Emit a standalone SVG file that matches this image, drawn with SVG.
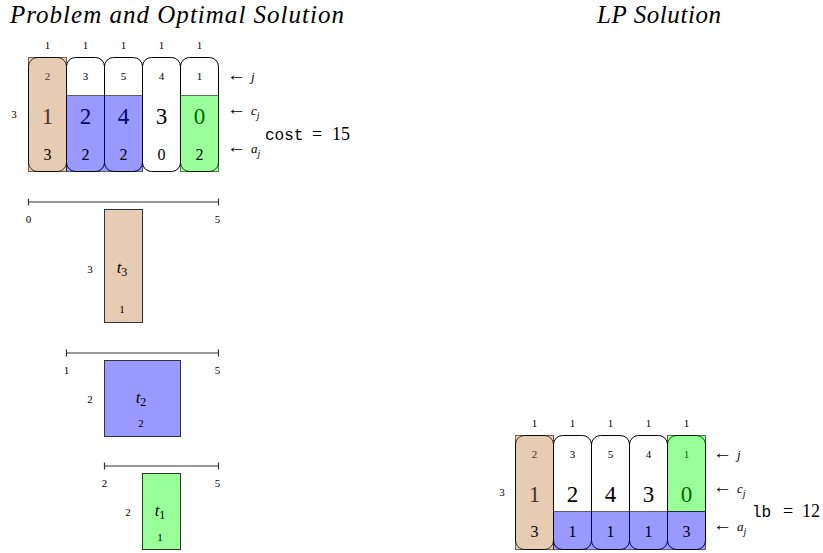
<svg xmlns="http://www.w3.org/2000/svg" width="823" height="553" viewBox="0 0 823 553" font-family="'Liberation Serif', 'Times New Roman', 'DejaVu Serif', serif">
<style>
text, tspan{font-family:'Liberation Serif', 'Times New Roman', 'DejaVu Serif', serif}
.c{text-anchor:middle}
.t{font-size:25px;font-style:italic;text-anchor:middle}
.s{font-size:11px}
.b{font-size:23px}
.m{font-size:16px}
.it{font-style:italic}
tspan.ar{font-size:19px}
tspan.mono{font-family:'Liberation Mono', 'DejaVu Sans Mono', monospace;font-size:16px}
.col{fill:none;stroke:#000;stroke-width:1}
.ov{stroke:#000;stroke-opacity:0.55;stroke-width:1}
.tan{fill:#bf8040;fill-opacity:0.4}
.blue{fill:#0000ff;fill-opacity:0.4}
.green{fill:#00ff00;fill-opacity:0.4}
.task{stroke:#333;stroke-width:1}
.axis{stroke:#333;stroke-width:1.2;fill:none}
</style>
<rect width="823" height="553" fill="#fff"/>
<g id="titles">
<text class="t" x="177" y="23" textLength="334">Problem and Optimal Solution</text>
<text class="t" x="659" y="23" textLength="124">LP Solution</text>
</g>
<g id="problem-grid">
<g id="pg-columns">
<rect class="col" x="28.5" y="57.5" width="38" height="114" rx="9"/>
<rect class="col" x="66.5" y="57.5" width="38" height="114" rx="9"/>
<rect class="col" x="104.5" y="57.5" width="38" height="114" rx="9"/>
<rect class="col" x="142.5" y="57.5" width="38" height="114" rx="9"/>
<rect class="col" x="180.5" y="57.5" width="38" height="114" rx="9"/>
</g>
<g id="pg-j" class="c s">
<text x="47.5" y="80">2</text><text x="85.5" y="80">3</text><text x="123.5" y="80">5</text><text x="161.5" y="80">4</text><text x="199.5" y="80">1</text>
</g>
<g id="pg-c" class="c b">
<text x="47.5" y="124">1</text><text x="85.5" y="124">2</text><text x="123.5" y="124">4</text><text x="161.5" y="124">3</text><text x="199.5" y="124">0</text>
</g>
<g id="pg-fills">
<rect class="ov tan" x="28.5" y="57.5" width="38" height="114"/>
<rect class="ov blue" x="66.5" y="95.5" width="76" height="76"/>
<rect class="ov green" x="180.5" y="95.5" width="38" height="76"/>
</g>
<g id="pg-a" class="c m">
<text x="47.5" y="160">3</text><text x="85.5" y="160">2</text><text x="123.5" y="160">2</text><text x="161.5" y="160">0</text><text x="199.5" y="160">2</text>
</g>
<g id="pg-widths" class="c s">
<text x="47.5" y="48.5">1</text><text x="85.5" y="48.5">1</text><text x="123.5" y="48.5">1</text><text x="161.5" y="48.5">1</text><text x="199.5" y="48.5">1</text>
</g>
<text class="c s" x="14" y="118">3</text>
<g id="pg-labels">
<text x="227" y="81"><tspan class="ar" font-size="19">←</tspan><tspan class="it" dx="5" font-size="13">j</tspan></text>
<text x="227" y="115"><tspan class="ar" font-size="19">←</tspan><tspan class="it" dx="5" font-size="13">c</tspan><tspan class="it" font-size="10" dy="4">j</tspan></text>
<text x="227" y="153"><tspan class="ar" font-size="19">←</tspan><tspan class="it" dx="5" font-size="13">a</tspan><tspan class="it" font-size="10" dy="4">j</tspan></text>
<text x="265" y="140"><tspan class="mono">cost</tspan><tspan x="312" font-size="18">=</tspan><tspan x="332" font-size="18">15</tspan></text>
</g>
</g>
<g id="schedule">
<g id="axis-t3">
<path class="axis" d="M28.5 202H218.5M28.5 198.5V205.5M218.5 198.5V205.5"/>
<text class="c s" x="28.5" y="223">0</text><text class="c s" x="217.5" y="223">5</text>
</g>
<g id="task-t3">
<rect class="task" x="104.5" y="209.5" width="38" height="113" fill="#e6ccb2"/>
<text class="c s" x="90" y="273">3</text>
<text class="c" x="122" y="273"><tspan class="it" font-size="17">t</tspan><tspan font-size="12" dy="3">3</tspan></text>
<text class="c s" x="122" y="313">1</text>
</g>
<g id="axis-t2">
<path class="axis" d="M66.5 353H218.5M66.5 349.5V356.5M218.5 349.5V356.5"/>
<text class="c s" x="66.5" y="374">1</text><text class="c s" x="217.5" y="374">5</text>
</g>
<g id="task-t2">
<rect class="task" x="104.5" y="360.5" width="76" height="76" fill="#9999ff"/>
<text class="c s" x="90" y="403">2</text>
<text class="c" x="141" y="403"><tspan class="it" font-size="17">t</tspan><tspan font-size="12" dy="3">2</tspan></text>
<text class="c s" x="141" y="427">2</text>
</g>
<g id="axis-t1">
<path class="axis" d="M104.5 466H218.5M104.5 462.5V469.5M218.5 462.5V469.5"/>
<text class="c s" x="104.5" y="487">2</text><text class="c s" x="217.5" y="487">5</text>
</g>
<g id="task-t1">
<rect class="task" x="142.5" y="473.5" width="38" height="76" fill="#99ff99"/>
<text class="c s" x="128" y="516">2</text>
<text class="c" x="160" y="516"><tspan class="it" font-size="17">t</tspan><tspan font-size="12" dy="3">1</tspan></text>
<text class="c s" x="160" y="541">1</text>
</g>
</g>
<g id="lp-grid">
<g id="lp-columns">
<rect class="col" x="515.5" y="435.5" width="38" height="114" rx="9"/>
<rect class="col" x="553.5" y="435.5" width="38" height="114" rx="9"/>
<rect class="col" x="591.5" y="435.5" width="38" height="114" rx="9"/>
<rect class="col" x="629.5" y="435.5" width="38" height="114" rx="9"/>
<rect class="col" x="667.5" y="435.5" width="38" height="114" rx="9"/>
</g>
<g id="lp-j" class="c s">
<text x="534.5" y="458">2</text><text x="572.5" y="458">3</text><text x="610.5" y="458">5</text><text x="648.5" y="458">4</text><text x="686.5" y="458">1</text>
</g>
<g id="lp-c" class="c b">
<text x="534.5" y="502">1</text><text x="572.5" y="502">2</text><text x="610.5" y="502">4</text><text x="648.5" y="502">3</text><text x="686.5" y="502">0</text>
</g>
<g id="lp-fills">
<rect class="ov tan" x="515.5" y="435.5" width="38" height="114"/>
<rect class="ov green" x="667.5" y="435.5" width="38" height="76"/>
<rect class="ov blue" x="553.5" y="511.5" width="152" height="38"/>
</g>
<g id="lp-a" class="c m">
<text x="534.5" y="537">3</text><text x="572.5" y="537">1</text><text x="610.5" y="537">1</text><text x="648.5" y="537">1</text><text x="686.5" y="537">3</text>
</g>
<g id="lp-widths" class="c s">
<text x="534.5" y="426.5">1</text><text x="572.5" y="426.5">1</text><text x="610.5" y="426.5">1</text><text x="648.5" y="426.5">1</text><text x="686.5" y="426.5">1</text>
</g>
<text class="c s" x="502" y="496">3</text>
<g id="lp-labels">
<text x="713" y="459"><tspan class="ar" font-size="19">←</tspan><tspan class="it" dx="5" font-size="13">j</tspan></text>
<text x="713" y="493"><tspan class="ar" font-size="19">←</tspan><tspan class="it" dx="5" font-size="13">c</tspan><tspan class="it" font-size="10" dy="4">j</tspan></text>
<text x="713" y="531"><tspan class="ar" font-size="19">←</tspan><tspan class="it" dx="5" font-size="13">a</tspan><tspan class="it" font-size="10" dy="4">j</tspan></text>
<text x="752" y="517"><tspan class="mono">lb</tspan><tspan x="783" font-size="18">=</tspan><tspan x="802" font-size="18">12</tspan></text>
</g>
</g>
<g id="connectors"></g>
</svg>
